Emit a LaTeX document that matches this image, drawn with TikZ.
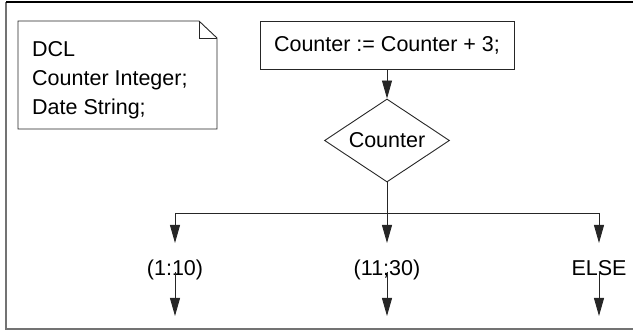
\documentclass[tikz,border=0pt]{standalone}
\usepackage{fontspec}
\setmainfont{Liberation Sans}
\usetikzlibrary{shapes.geometric,arrows.meta}
\begin{document}
\begin{tikzpicture}[x=1pt,y=-1pt,
  every node/.style={font=\fontsize{21.5}{29}\selectfont},
  ln/.style={line width=0.9pt, draw=black!85},
  arr/.style={ln, -{Triangle[length=18pt,width=10pt]}},
  frame/.style={line width=1.6pt, draw=black!55},
  procbox/.style={draw=black!85, line width=0.9pt, minimum width=254pt, minimum height=48pt, inner sep=0pt},
  decide/.style={diamond, draw=black!85, line width=0.9pt, minimum width=125pt, minimum height=83pt, inner sep=0pt, aspect=1.5},
  caselbl/.style={anchor=base, inner xsep=2pt, inner ysep=0pt, text height=16pt, text depth=5pt}
]
\useasboundingbox (0,0) rectangle (633,331);
% frame
\draw[frame] (6,2) -- (6,329) -- (633,329);
\draw[line width=1.4pt, black] (6,2) -- (633,2);
% note
\draw[ln] (18,21) -- (199,21) -- (217,38) -- (217,129) -- (18,129) -- cycle;
\draw[ln] (199,21) -- (199,38) -- (217,38);
\node[anchor=base west, inner sep=0pt] (dcl1) at (32,56.5) {DCL};
\node[anchor=base west, inner sep=0pt] (dcl2) at (32,86) {Counter Integer;};
\node[anchor=base west, inner sep=0pt] (dcl3) at (32,115) {Date String;};
% flow
\node[procbox] (assign) at (387,45) {Counter := Counter + 3;};
\node[decide] (dec) at (387,140.5) {Counter};
\draw[arr] (assign.south) -- (dec.north);
\coordinate (j) at (387,213);
\coordinate (jl) at (175,213);
\coordinate (jr) at (599,213);
\draw[ln] (dec.south) -- (j);
\draw[ln] (jl) -- (jr);
\node[caselbl] (c1) at (175,276) {(1:10)};
\node[caselbl] (c2) at (387,276) {(11;30)};
\node[caselbl] (c3) at (599,276) {ELSE};
\path (c1.base) ++(0,-17) coordinate (t1);
\draw[arr] (jl) -- (175,243);
\draw[arr] (j) -- (387,243);
\draw[arr] (jr) -- (599,243);
\coordinate (e1) at (175,316);
\coordinate (e2) at (387,316);
\coordinate (e3) at (599,316);
\draw[arr] (175,272) -- (e1);
\draw[arr] (387,272) -- (e2);
\draw[arr] (599,272) -- (e3);
\end{tikzpicture}
\end{document}
